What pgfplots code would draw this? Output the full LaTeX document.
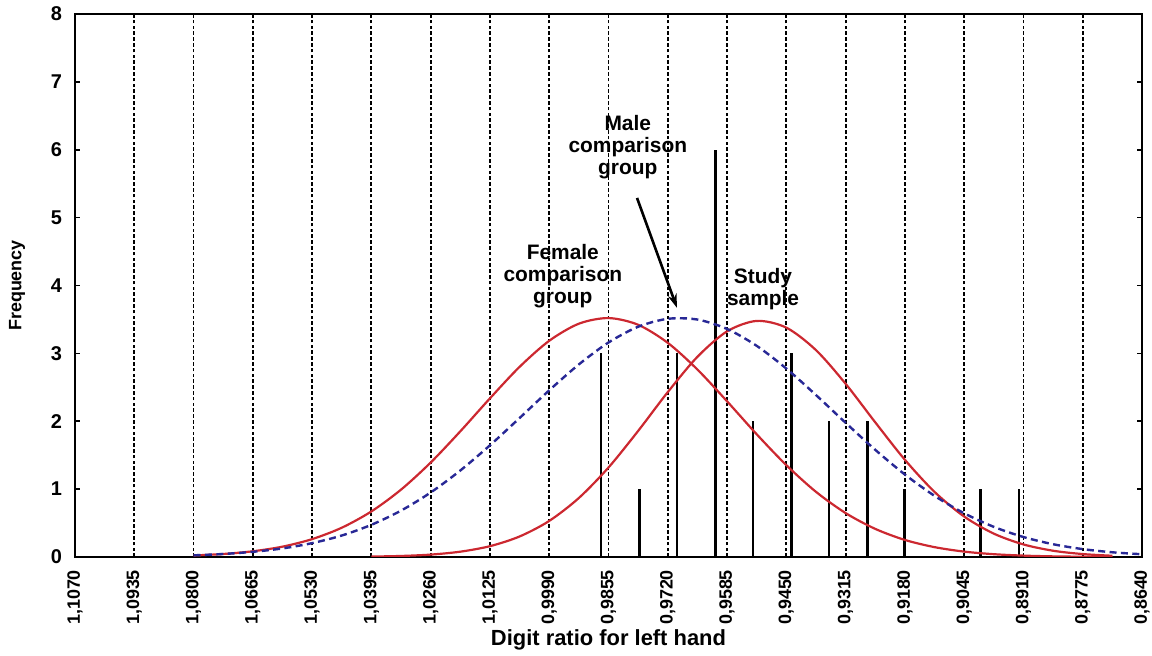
\documentclass[border=0pt]{standalone}
\usepackage{fontspec}
\setmainfont{Liberation Sans}
\usepackage{pgfplots}
\pgfplotsset{compat=1.18}
\usetikzlibrary{arrows.meta}
\definecolor{fitred}{RGB}{204,40,48}
\definecolor{maleblue}{RGB}{40,40,150}

\begin{document}
\begin{tikzpicture}
\begin{axis}[
    scale only axis,
    width=533.5bp, height=271.5bp,
    x dir=reverse,
    xmin=0.8640, xmax=1.1070,
    ymin=0, ymax=8,
    xtick={1.1070,1.0935,1.0800,1.0665,1.0530,1.0395,1.0260,1.0125,0.9990,0.9855,0.9720,0.9585,0.9450,0.9315,0.9180,0.9045,0.8910,0.8775,0.8640},
    xticklabels={{1,1070},{1,0935},{1,0800},{1,0665},{1,0530},{1,0395},{1,0260},{1,0125},{0,9990},{0,9855},{0,9720},{0,9585},{0,9450},{0,9315},{0,9180},{0,9045},{0,8910},{0,8775},{0,8640}},
    xticklabel style={yshift=-3bp, rotate=90, anchor=east, font=\fontsize{9}{10}\selectfont\bfseries},
    xtick style={draw=none},
    ytick={0,1,2,3,4,5,6,7,8},
    yticklabels={0,1,2,3,4,5,6,7,8},
    yticklabel style={xshift=-3bp, font=\fontsize{10}{11}\selectfont\bfseries},
    ytick pos=both, yticklabel pos=left,
    tick align=inside,
    major tick length=2.5bp,
    ytick style={black, line width=0.8bp},
    xmajorgrids,
    grid style={black, line width=0.9bp, dash pattern=on 1.8bp off 1.1bp},
    axis line style={line width=1.3bp},
    xlabel={Digit ratio for left hand},
    xlabel style={at={(axis description cs:0.5,-0.1529)}, anchor=center, font=\fontsize{11}{12}\selectfont\bfseries},
    ylabel={Frequency},
    ylabel style={at={(axis description cs:-0.0544,0.5)}, anchor=center, font=\fontsize{9}{10}\selectfont\bfseries},
  ]
  % observed frequencies
  \addplot[ycomb, black, line width=1.4bp, mark=none] coordinates {
    (0.9872,3) (0.9785,1) (0.9699,3) (0.9612,6) (0.9526,2) (0.9439,3)
    (0.9353,2) (0.9266,2) (0.9180,1) (0.9007,1) (0.8920,1)};
  % female comparison group
  \addplot[fitred, line width=1.1bp, smooth] coordinates {
    (1.0800,0.022) (1.07325,0.044) (1.0665,0.084) (1.05975,0.152) (1.0530,0.263)
    (1.04625,0.431) (1.0395,0.671) (1.03275,0.992) (1.0260,1.391) (1.01925,1.851)
    (1.0125,2.337) (1.00575,2.801) (0.9990,3.185) (0.99225,3.437) (0.9855,3.520)
    (0.97875,3.421) (0.9720,3.155) (0.96525,2.762) (0.9585,2.294) (0.95175,1.808)
    (0.9450,1.353) (0.93825,0.960) (0.9315,0.647) (0.92475,0.414) (0.9180,0.251)
    (0.91125,0.145) (0.9045,0.079) (0.89775,0.041) (0.8910,0.020) (0.88425,0.009)
    (0.8775,0.004) (0.87075,0.002)};
  % study sample
  \addplot[fitred, line width=1.1bp, smooth] coordinates {
    (1.0395,0.006) (1.03275,0.015) (1.0260,0.035) (1.01925,0.078) (1.0125,0.159)
    (1.00575,0.302) (0.9990,0.531) (0.99225,0.869) (0.9855,1.318) (0.97875,1.857)
    (0.9720,2.429) (0.96525,2.949) (0.9585,3.324) (0.95175,3.478) (0.9450,3.379)
    (0.93825,3.048) (0.9315,2.552) (0.92475,1.984) (0.9180,1.432) (0.91125,0.959)
    (0.9045,0.596) (0.89775,0.344) (0.8910,0.185) (0.88425,0.092) (0.8775,0.043)
    (0.87075,0.018)};
  % male comparison group
  \addplot[maleblue, line width=1.2bp, dash pattern=on 3.5bp off 2.2bp, smooth] coordinates {
    (1.0800,0.024) (1.07325,0.044) (1.0665,0.076) (1.05975,0.126) (1.0530,0.204)
    (1.04625,0.316) (1.0395,0.474) (1.03275,0.683) (1.0260,0.950) (1.01925,1.274)
    (1.0125,1.645) (1.00575,2.047) (0.9990,2.455) (0.99225,2.837) (0.9855,3.160)
    (0.97875,3.392) (0.9720,3.509) (0.96525,3.498) (0.9585,3.360) (0.95175,3.111)
    (0.9450,2.776) (0.93825,2.386) (0.9315,1.977) (0.92475,1.579) (0.9180,1.215)
    (0.91125,0.901) (0.9045,0.644) (0.89775,0.444) (0.8910,0.294) (0.88425,0.188)
    (0.8775,0.116) (0.87075,0.069) (0.8640,0.040)};
  % annotations
  \node[align=center, font=\fontsize{10.5}{11}\selectfont\bfseries] at (axis cs:0.9811,6.04) {Male\\comparison\\group};
  \node[align=center, font=\fontsize{10.5}{11}\selectfont\bfseries] at (axis cs:0.9959,4.14) {Female\\comparison\\group};
  \node[align=center, font=\fontsize{10.5}{11}\selectfont\bfseries] at (axis cs:0.9503,3.95) {Study\\sample};
  \draw[line width=1.3bp, -{Stealth[length=7bp, width=4.5bp]}] (axis cs:0.9790,5.29) -- (axis cs:0.9699,3.67);
\end{axis}
\pgfresetboundingbox
\path (current axis.south west) ++(-37.5bp,-49.5bp) rectangle ([xshift=5bp,yshift=7bp]current axis.north east);
\end{tikzpicture}
\end{document}
